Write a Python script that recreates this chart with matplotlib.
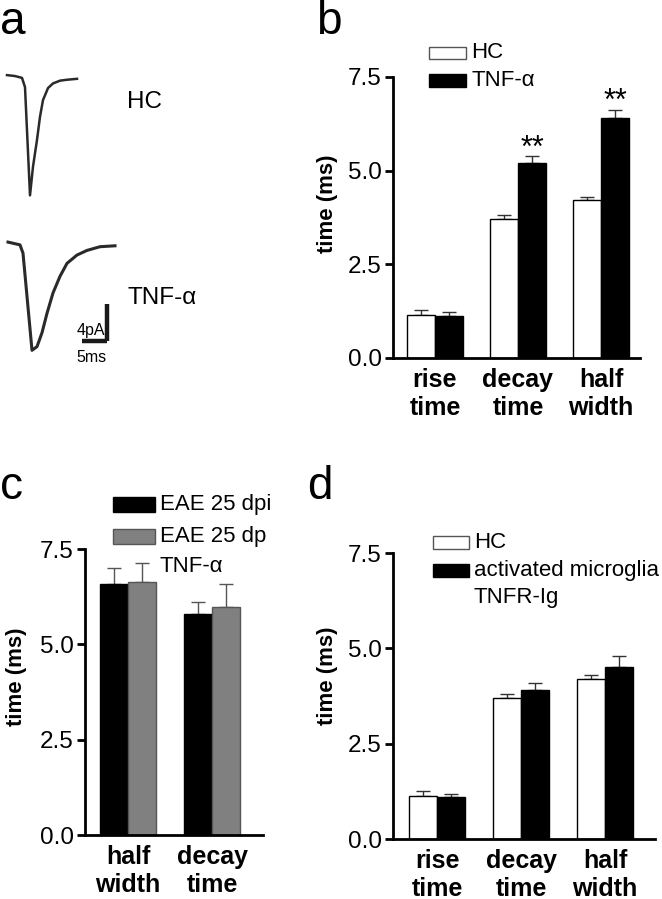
import numpy as np
import matplotlib
matplotlib.use("Agg")
import matplotlib.pyplot as plt
from matplotlib.patches import Rectangle

plt.rcParams['font.family'] = ['Liberation Sans', 'DejaVu Sans']

W, H = 662, 899

# panel a: example currents, time (ms) and current (pA)
hc_t = [0, 1.6, 3.0, 3.6, 4.6, 5.2, 6.0, 6.6, 7.2, 8.2, 9.2, 10.6, 12.0, 14.0]
hc_i = [0.1, 0, -0.2, -1.2, -12.9, -9.8, -6.9, -4.4, -2.6, -1.3, -0.8, -0.5, -0.4, -0.3]
tnf_t = [0, 2.4, 3.0, 4.8, 5.8, 6.8, 7.8, 9.0, 10.4, 11.8, 13.8, 15.8, 18.4, 21.4]
tnf_i = [0.1, -0.2, -1.1, -11.6, -11.2, -9.7, -7.6, -5.4, -3.6, -2.2, -1.3, -0.8, -0.4, -0.3]

# panel b
b_labels = ["rise\ntime", "decay\ntime", "half\nwidth"]
b_hc = [1.15, 3.71, 4.21]
b_hc_err = [0.12, 0.11, 0.09]
b_tnf = [1.11, 5.20, 6.41]
b_tnf_err = [0.11, 0.19, 0.22]

# panel c
c_labels = ["half\nwidth", "decay\ntime"]
c_dpi = [6.59, 5.79]
c_dpi_err = [0.41, 0.31]
c_dp_tnf = [6.64, 5.99]
c_dp_tnf_err = [0.49, 0.59]

# panel d
d_labels = ["rise\ntime", "decay\ntime", "half\nwidth"]
d_hc = [1.14, 3.70, 4.20]
d_hc_err = [0.11, 0.10, 0.09]
d_mg = [1.09, 3.90, 4.50]
d_mg_err = [0.10, 0.19, 0.29]

yticks = [0.0, 2.5, 5.0, 7.5]

LEG_FS = 16


def fig_axes(fig, left, top, right, bottom):
    return fig.add_axes([left / W, 1 - bottom / H, (right - left) / W, (bottom - top) / H])


def legend_entry(fig, x, y, w, h, face, edge, text, fs=LEG_FS):
    fig.add_artist(Rectangle((x / W, 1 - (y + h) / H), w / W, h / H,
                             transform=fig.transFigure, facecolor=face,
                             edgecolor=edge, linewidth=1))
    fig.text((x + w + 5) / W, 1 - (y + h / 2) / H, text, fontsize=fs,
             va='center', ha='left')


def bar_panel(ax, labels, s1, e1, s2, e2, c1, c2, ec1, ec2, width, xlim, errc1, errc2):
    x = np.arange(len(labels))
    ax.bar(x - width / 2, s1, width, color=c1, edgecolor=ec1, linewidth=1, zorder=2)
    ax.bar(x + width / 2, s2, width, color=c2, edgecolor=ec2, linewidth=1, zorder=2)
    ax.errorbar(x - width / 2, s1, yerr=[np.zeros(len(s1)), e1], fmt='none',
                ecolor=errc1, elinewidth=1, capsize=5, capthick=1, zorder=1)
    ax.errorbar(x + width / 2, s2, yerr=[np.zeros(len(s2)), e2], fmt='none',
                ecolor=errc2, elinewidth=1, capsize=5, capthick=1, zorder=1)
    ax.set_xlim(*xlim)
    ax.set_ylim(0, 7.5)
    ax.set_yticks(yticks)
    ax.set_yticklabels(["%.1f" % v for v in yticks], fontsize=17.5)
    ax.set_xticks(x)
    ax.set_xticklabels(labels, fontsize=18, fontweight='bold', linespacing=1.2)
    ax.tick_params(axis='x', length=0, pad=7)
    ax.tick_params(axis='y', length=6, width=2, direction='out', pad=2)
    for s in ['top', 'right']:
        ax.spines[s].set_visible(False)
    for s in ['left', 'bottom']:
        ax.spines[s].set_linewidth(2)
    ax.set_ylabel("time (ms)", fontsize=16, fontweight='bold')
    return x


fig = plt.figure(figsize=(W / 100, H / 100), dpi=100)

# ---- panel a
ax_a = fig_axes(fig, 0, 0, 220, 400)
ax_a.set_xlim(0, 44)
ax_a.set_ylim(-43.24, 0)
ax_a.axis('off')
ax_a.plot(np.array(hc_t) + 1.4, np.array(hc_i) - 8.22, color='#2a2a2a', lw=1.8)
ax_a.plot(np.array(tnf_t) + 1.6, np.array(tnf_i) - 26.27, color='#2a2a2a', lw=2.2)
# scale bar: 5 ms, 4 pA
ax_a.plot([16.4, 21.4], [-36.9, -36.9], color='#1a1a1a', lw=3.2, solid_capstyle='butt')
ax_a.plot([21.4, 21.4], [-36.9, -32.9], color='#1a1a1a', lw=3.2, solid_capstyle='butt')
ax_a.text(21.0, -35.7, "4pA", fontsize=11.5, ha='right', va='center')
ax_a.text(15.3, -37.8, "5ms", fontsize=11.5, ha='left', va='top')
fig.text(127 / W, 1 - 102 / H, "HC", fontsize=17.5, va='center')
fig.text(127 / W, 1 - 298 / H, "TNF-α", fontsize=17.5, va='center')

# ---- panel b
ax_b = fig_axes(fig, 393, 77, 640, 358)
xb = bar_panel(ax_b, b_labels, b_hc, b_hc_err, b_tnf, b_tnf_err,
               'white', 'black', 'black', 'black', 0.337, (-0.506, 2.47),
               '#333333', '#333333')
ax_b.yaxis.set_label_coords(-0.223, 0.55)
for i in [1, 2]:
    ax_b.text(xb[i] + 0.337 / 2, b_tnf[i] + b_tnf_err[i] - 0.02, "**",
              ha='center', va='baseline', fontsize=22)
legend_entry(fig, 429, 47, 37, 12, 'white', '#555555', "HC")
legend_entry(fig, 429, 74, 37, 13, 'black', 'black', "TNF-α")

# ---- panel c
ax_c = fig_axes(fig, 85, 549, 263, 835)
bar_panel(ax_c, c_labels, c_dpi, c_dpi_err, c_dp_tnf, c_dp_tnf_err,
          'black', '#808080', 'black', '#555555', 0.333, (-0.512, 1.607),
          '#555555', '#555555')
ax_c.yaxis.set_label_coords(-0.326, 0.553)
legend_entry(fig, 113, 497, 42, 15, 'black', 'black', "EAE 25 dpi")
legend_entry(fig, 113, 529, 42, 15, '#808080', '#555555', "EAE 25 dp")
fig.text(160 / W, 1 - 566 / H, "TNF-α", fontsize=LEG_FS, va='center')

# ---- panel d
ax_d = fig_axes(fig, 393, 553, 655, 839)
bar_panel(ax_d, d_labels, d_hc, d_hc_err, d_mg, d_mg_err,
          'white', 'black', 'black', 'black', 0.333, (-0.524, 2.595),
          '#333333', '#333333')
ax_d.yaxis.set_label_coords(-0.21, 0.57)
legend_entry(fig, 433, 536, 36, 13, 'white', '#555555', "HC")
legend_entry(fig, 433, 564, 36, 13, 'black', 'black', "activated microglia")
fig.text(474 / W, 1 - 597 / H, "TNFR-Ig", fontsize=LEG_FS, va='center')

# panel letters
fig.text(0 / W, 1 - 22 / H, "a", fontsize=33, va='center')
fig.text(316 / W, 1 - 22 / H, "b", fontsize=33, va='center')
fig.text(0 / W, 1 - 487 / H, "c", fontsize=33, va='center')
fig.text(307 / W, 1 - 487 / H, "d", fontsize=33, va='center')

fig.savefig("out.png", dpi=100, facecolor='white')
